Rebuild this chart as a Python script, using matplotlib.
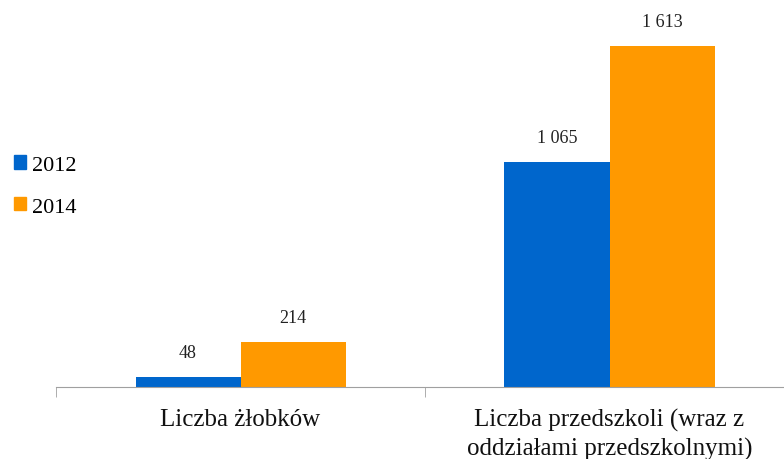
import numpy as np
import matplotlib.pyplot as plt
from matplotlib.patches import Patch

plt.rcParams['font.family'] = ['Liberation Serif', 'DejaVu Serif']

# Data
categories = ["Liczba żłobków", "Liczba przedszkoli (wraz z\noddziałami przedszkolnymi)"]
years = ["2012", "2014"]
values_2012 = [48, 1065]
values_2014 = [214, 1613]
labels_2012 = ["48", "1 065"]
labels_2014 = ["214", "1 613"]
colors = ["#0066CC", "#FF9900"]

fig = plt.figure(figsize=(7.84, 4.6), dpi=100)
# plot area runs slightly past the right edge, as in the original
ax = fig.add_axes([56/784, 72/460, 738/784, 388/460])

x = np.arange(len(categories))
w = 105/369
b1 = ax.bar(x - w/2, values_2012, w, color=colors[0])
b2 = ax.bar(x + w/2, values_2014, w, color=colors[1])

for bars, labs in ((b1, labels_2012), (b2, labels_2014)):
    for r, t in zip(bars, labs):
        ax.annotate(t, (r.get_x() + r.get_width()/2, r.get_height()),
                    xytext=(0, 17.5), textcoords='offset points',
                    ha='center', va='center', fontsize=13, color='#222222')

ax.set_xlim(-0.5, 1.5)
ax.set_ylim(0, 388/0.2114)
ax.set_yticks([])
for s in ('top', 'right', 'left'):
    ax.spines[s].set_visible(False)
ax.spines['bottom'].set_color('#A0A0A0')

ax.set_xticks(x)
ax.set_xticklabels(categories, fontsize=18, color='#111111', linespacing=1.32)
ax.tick_params(axis='x', which='major', length=0, pad=15)
ax.set_xticks([-0.5, 0.5, 1.5], minor=True)
ax.tick_params(axis='x', which='minor', length=7, color='#A0A0A0', direction='out')

handles = [Patch(color=c, label=y) for c, y in zip(colors, years)]
fig.legend(handles=handles, loc='center left', bbox_to_anchor=(14/784, 1 - 187/460),
           frameon=False, fontsize=16, handlelength=0.55, handleheight=0.55,
           handletextpad=0.25, labelspacing=1.0, borderpad=0, borderaxespad=0)

fig.savefig("out.png", dpi=100)
